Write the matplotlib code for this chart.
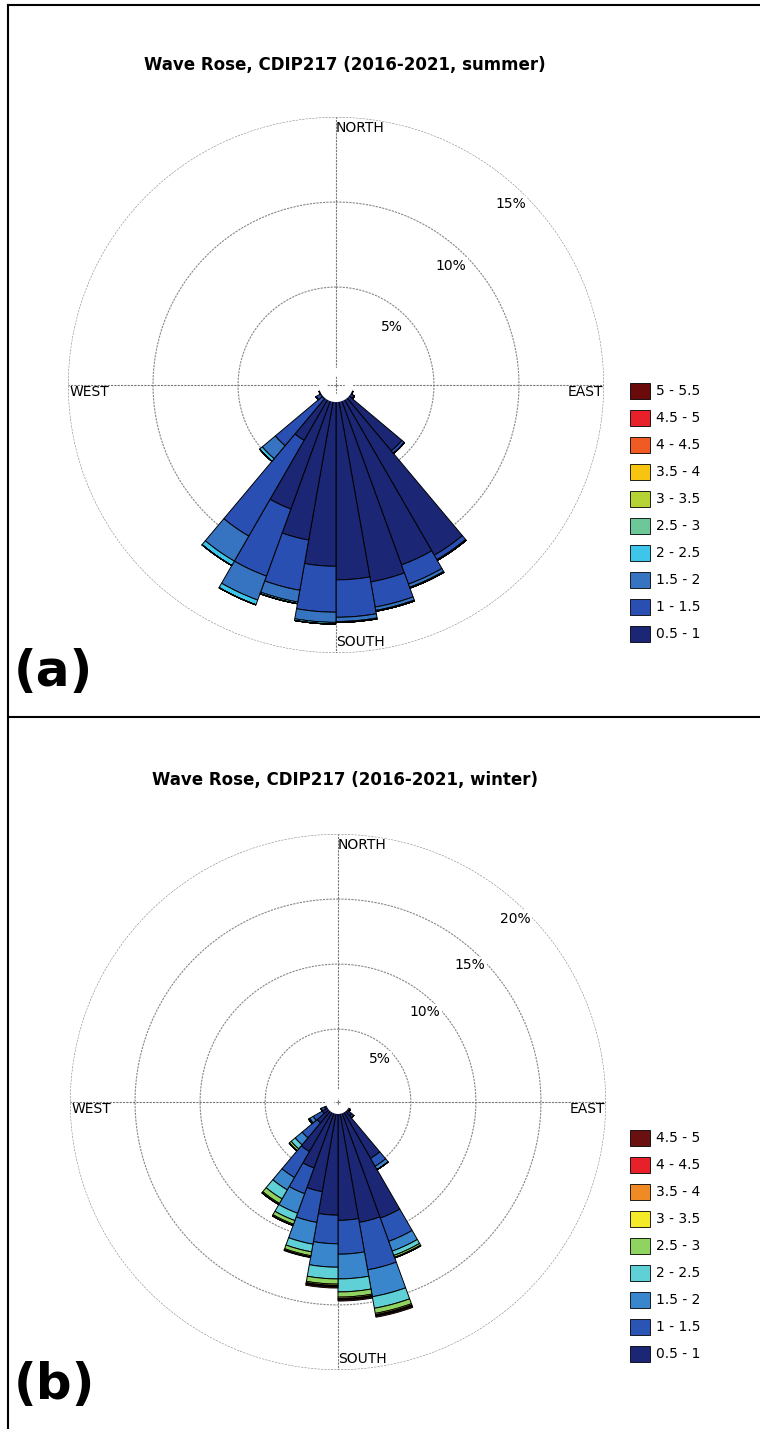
import numpy as np
import matplotlib
matplotlib.use("Agg")
import matplotlib.pyplot as plt
from matplotlib.patches import Rectangle

W, H = 760, 1429
fig = plt.figure(figsize=(W/100, H/100), dpi=100)

def fx(x): return x / W
def fy(y): return 1 - y / H

# ---------- data ----------
dirs_s = [115, 125, 135, 145, 155, 165, 175, 185, 195, 205, 215, 225, 235, 245]
bins_s = ["0.5 - 1", "1 - 1.5", "1.5 - 2", "2 - 2.5", "2.5 - 3", "3 - 3.5",
          "3.5 - 4", "4 - 4.5", "4.5 - 5", "5 - 5.5"]
colors_s = ["#1b2674", "#2a4fb3", "#3673c0", "#3ec6ea", "#6cc799", "#b5d334",
            "#f7c510", "#f05a23", "#e8202a", "#6b0a0a"]
vals_s = [
    [0.3, 0, 0, 0, 0, 0, 0, 0, 0, 0],
    [0.5, 0, 0, 0, 0, 0, 0, 0, 0, 0],
    [4.3, 0.2, 0, 0, 0, 0, 0, 0, 0, 0],
    [10.8, 0.3, 0.05, 0, 0, 0, 0, 0, 0, 0],
    [10.5, 1.2, 0.2, 0.05, 0, 0, 0, 0, 0, 0],
    [11.0, 1.5, 0.2, 0.05, 0, 0, 0, 0, 0, 0],
    [10.7, 2.2, 0.25, 0.05, 0, 0, 0, 0, 0, 0],
    [9.9, 2.7, 0.6, 0.1, 0, 0, 0, 0, 0, 0],
    [8.5, 3.0, 0.7, 0.1, 0, 0, 0, 0, 0, 0],
    [7.0, 4.2, 1.5, 0.3, 0, 0, 0, 0, 0, 0],
    [3.0, 6.5, 1.7, 0.3, 0, 0, 0, 0, 0, 0],
    [0.3, 3.6, 1.0, 0.2, 0, 0, 0, 0, 0, 0],
    [0.3, 0.3, 0, 0, 0, 0, 0, 0, 0, 0],
    [0.2, 0.1, 0, 0, 0, 0, 0, 0, 0, 0],
]
rings_s = [5, 10, 15]

dirs_w = [125, 135, 145, 155, 165, 175, 185, 195, 205, 215, 225, 235, 245]
bins_w = ["0.5 - 1", "1 - 1.5", "1.5 - 2", "2 - 2.5", "2.5 - 3", "3 - 3.5",
          "3.5 - 4", "4 - 4.5", "4.5 - 5"]
colors_w = ["#1b2674", "#2a55b5", "#3a86cc", "#5ed0d6", "#8fd460", "#f4ea2a",
            "#f08a24", "#e8202a", "#6b1010"]
vals_w = [
    [0.5, 0, 0, 0, 0, 0, 0, 0, 0],
    [0.8, 0.2, 0, 0, 0, 0, 0, 0, 0],
    [4.4, 0.7, 0.3, 0, 0, 0, 0, 0, 0],
    [8.9, 1.9, 0.8, 0.35, 0.15, 0.05, 0, 0, 0],
    [8.8, 3.7, 2.1, 0.9, 0.4, 0.1, 0.05, 0.05, 0.1],
    [8.5, 2.6, 1.9, 1.0, 0.4, 0.1, 0.05, 0.05, 0.1],
    [8.1, 2.2, 1.8, 0.9, 0.4, 0.1, 0.05, 0.05, 0.1],
    [6.4, 2.4, 1.7, 0.6, 0.3, 0.1, 0, 0, 0.05],
    [4.8, 2.1, 1.6, 0.6, 0.3, 0.1, 0, 0, 0],
    [3.8, 2.3, 1.1, 0.8, 0.4, 0.1, 0, 0, 0],
    [1.5, 1.5, 0.7, 0.4, 0.2, 0, 0, 0, 0],
    [0.8, 0.8, 0.3, 0.1, 0, 0, 0, 0, 0],
    [0.5, 0.3, 0, 0, 0, 0, 0, 0, 0],
]
rings_w = [5, 10, 15, 20]

# ---------- frame lines ----------
for (x0, y0, x1, y1) in [(8, 5, 760, 5), (8, 5, 8, 1429), (8, 717, 760, 717)]:
    fig.add_artist(plt.Line2D([fx(x0), fx(x1)], [fy(y0), fy(y1)], color="black", lw=1.5))

def rose(cx, cy, R, off, dirs, vals, colors, bins, rings, title, ty, label, ly, legy):
    ax = fig.add_axes([fx(cx - R), fy(cy + R), 2 * R / W, 2 * R / H], projection="polar")
    ax.set_theta_zero_location("N")
    ax.set_theta_direction(-1)
    rmax = rings[-1] + off
    ax.set_ylim(0, rmax)
    ax.axis("off")
    th = np.linspace(0, 2 * np.pi, 400)
    for r in rings:
        ax.plot(th, np.full_like(th, r + off), color="#888888", lw=0.8, ls=(0, (2, 1)))
    for a in [0, np.pi / 2]:
        ax.plot([a, a], [0, rmax], color="#777777", lw=0.8, ls=(0, (2, 1)))
        ax.plot([a + np.pi, a + np.pi], [0, rmax], color="#777777", lw=0.8, ls=(0, (2, 1)))
    v = np.array(vals)
    bottom = np.full(len(dirs), off)
    t = np.deg2rad(dirs)
    for j in range(v.shape[1]):
        ax.bar(t, v[:, j], width=np.deg2rad(10), bottom=bottom, color=colors[j],
               edgecolor="black", lw=0.7, zorder=3)
        bottom = bottom + v[:, j]
    ax.plot(th, np.full_like(th, off), color="white", lw=6, zorder=4)
    for r in rings:
        ax.text(np.deg2rad(44), r + off - 1.0, f"{r}%", ha="center", va="center",
                fontsize=10, zorder=5, bbox=dict(fc="white", ec="none", pad=1))
    kw = dict(fontsize=10, zorder=5)
    ax.text(0, rmax * 0.985, "NORTH", ha="left", va="top", **kw)
    ax.text(np.pi, rmax * 0.985, "SOUTH", ha="left", va="bottom", **kw)
    ax.text(np.pi / 2, rmax * 0.995, "EAST", ha="right", va="top", **kw)
    ax.text(3 * np.pi / 2, rmax * 0.995, "WEST", ha="left", va="top", **kw)
    fig.text(fx(345), fy(ty), title, ha="center", va="center", fontsize=12, fontweight="bold")
    fig.text(fx(14), fy(ly), label, ha="left", va="center", fontsize=36, fontweight="bold")
    n = len(bins)
    for k in range(n):
        idx = n - 1 - k
        y = legy + k * 27
        fig.add_artist(Rectangle((fx(630), fy(y + 8)), 20 / W, 16 / H, fc=colors[idx],
                                 ec="black", lw=0.6))
        fig.text(fx(656), fy(y), bins[idx], ha="left", va="center", fontsize=10)

rose(336, 385, 268, 0.76, dirs_s, vals_s, colors_s, bins_s, rings_s,
     "Wave Rose, CDIP217 (2016-2021, summer)", 65, "(a)", 672, 391)
rose(338, 1102, 268, 0.6, dirs_w, vals_w, colors_w, bins_w, rings_w,
     "Wave Rose, CDIP217 (2016-2021, winter)", 780, "(b)", 1385, 1138)

fig.savefig("out.png", dpi=100)
